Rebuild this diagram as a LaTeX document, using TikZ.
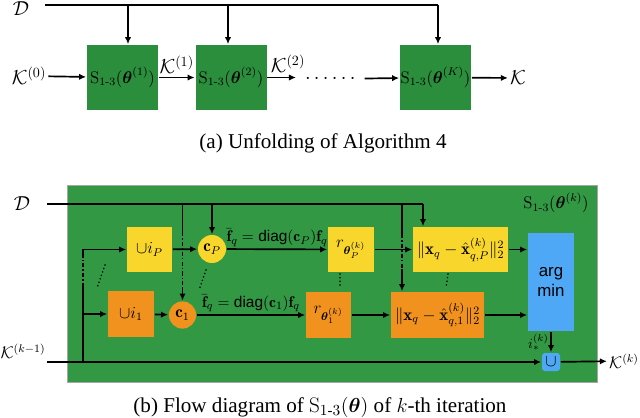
\documentclass[tikz,border=0pt]{standalone}
\usepackage{amsmath}
\usepackage{amssymb}
\usepackage{fontspec}
\setsansfont{Liberation Sans}
\newfontfamily\capfont{Liberation Serif}
\usetikzlibrary{arrows.meta,calc}
\definecolor{topgreen}{RGB}{42,142,60}
\definecolor{bggreen}{RGB}{50,152,68}
\definecolor{byellow}{RGB}{249,214,44}
\definecolor{borange}{RGB}{242,146,30}
\definecolor{bblue}{RGB}{78,168,246}

\begin{document}
\begin{tikzpicture}[x=0.025cm,y=-0.025cm,>={Latex[length=5pt,width=4.5pt]},line width=1.2pt,
  sz/.style 2 args={minimum width=#1*0.025cm,minimum height=#2*0.025cm},
  blk/.style={inner sep=0pt,align=center},
  gbox/.style={blk,fill=topgreen,sz={71}{65},font=\large},
  ybox/.style={blk,fill=byellow,font=\large},
  obox/.style={blk,fill=borange,font=\large},
  bbox/.style={blk,fill=bblue,font=\large\sffamily},
  ycirc/.style={circle,inner sep=0pt,fill=byellow,minimum size=0.7cm,font=\large},
  ocirc/.style={circle,inner sep=0pt,fill=borange,minimum size=0.68cm,font=\large},
  flab/.style={above,inner sep=1.5pt,font=\fontsize{11}{13}\selectfont},
  skip/.style={dash pattern=on 3pt off 1.5pt on 1pt off 1.5pt},
  dots/.style={line cap=round,dash pattern=on 0pt off 2.6pt},
  capt/.style={font=\capfont\fontsize{15}{17}\selectfont}]
  \useasboundingbox (0,0) rectangle (640,417);

  % (a) unfolding
  \node[font=\Large,inner sep=1pt] (lD) at (21,9) {$\mathcal{D}$};
  \coordinate (dA) at (45,5);
  \coordinate (dB) at (438,5);
  \node[gbox] (s1) at (122.5,77.5) {$\mathrm{S}_{1\text{-}3}(\boldsymbol{\theta}^{(1)})$};
  \node[gbox] (s2) at (231,77.5) {$\mathrm{S}_{1\text{-}3}(\boldsymbol{\theta}^{(2)})$};
  \node[gbox] (s3) at (435.5,77.5) {$\mathrm{S}_{1\text{-}3}(\boldsymbol{\theta}^{(K)})$};
  \node[font=\Large,inner sep=1pt] (k0) at (29,76) {$\mathcal{K}^{(0)}$};
  \node[font=\Large] (dts) at (332,79) {$\cdots\cdots$};
  \node[font=\Large,inner sep=1pt] (kK) at (518,78) {$\mathcal{K}$};
  \draw (dA) -- (dB);
  \foreach \x/\b in {128/s1,228/s2,438/s3}
    \draw[->] (\x,5) -- (\x,5 |- \b.north);
  \draw[->] (k0) -- (s1);
  \draw[->] (s1) -- node[above=1pt,font=\Large,inner sep=1pt] (k1) {$\mathcal{K}^{(1)}$} (s2);
  \coordinate (a2) at (296,77.5);
  \draw[->] (s2) -- (a2);
  \node[font=\Large,inner sep=1pt] (k2) at (288,64) {$\mathcal{K}^{(2)}$};
  \draw[->] (dts) -- (s3);
  \draw[->] (s3) -- (kK);
  \node[capt] (capa) at (323,143) {(a) Unfolding of Algorithm 4};

  % (b) one iteration
  \fill[bggreen,draw=black!35,line width=0.6pt] (67,185) rectangle (597,382);
  \node[font=\large] (ttl) at (556,203) {$\mathrm{S}_{1\text{-}3}(\boldsymbol{\theta}^{(k)})$};
  \node[font=\Large,inner sep=1pt] (lD2) at (22,204) {$\mathcal{D}$};
  \node[font=\large,inner sep=1pt] (kin) at (23,351) {$\mathcal{K}^{(k-1)}$};
  \node[font=\large,inner sep=1pt] (kout) at (624,361) {$\mathcal{K}^{(k)}$};

  \node[ybox,sz={45}{45}] (uiP) at (149.5,249.5) {$\cup i_P$};
  \node[obox,sz={46}{46}] (ui1) at (131,314) {$\cup i_1$};
  \node[ycirc] (cP) at (212,249) {$\mathbf{c}_P$};
  \node[ocirc] (c1) at (182.5,315) {$\mathbf{c}_1$};
  \node[ybox,sz={46}{45}] (rP) at (351,249.5) {$r_{\boldsymbol{\theta}_P^{(k)}}$};
  \node[obox,sz={45}{46}] (r1) at (328.5,315) {$r_{\boldsymbol{\theta}_1^{(k)}}$};
  \node[ybox,sz={95}{45}] (nP) at (460.5,249.5) {$\|\mathbf{x}_q-\hat{\mathbf{x}}_{q,P}^{(k)}\|_2^2$};
  \node[obox,sz={93}{46}] (n1) at (437.5,315) {$\|\mathbf{x}_q-\hat{\mathbf{x}}_{q,1}^{(k)}\|_2^2$};
  \node[bbox,sz={46}{98}] (am) at (551,282) {arg\\min};
  \node[bbox,sz={18}{18},rounded corners=2pt] (un) at (551,362) {$\cup$};

  % data line
  \coordinate (dL) at (47,204);
  \coordinate (dR) at (423,204);
  \draw (dL) -- (dR);
  \draw[->] (dR) -- (dR |- nP.north);
  \draw[->] (cP |- dL) -- (cP);
  \draw (c1 |- dL) -- ++(0,28) coordinate (v1a);
  \draw[skip] (v1a) -- ++(0,55) coordinate (v1b);
  \draw[->] (v1b) -- (c1);
  \coordinate (v2) at (402,204);
  \draw (v2) -- ++(0,30) coordinate (v2a);
  \draw[skip] (v2a) -- ++(0,35) coordinate (v2b);
  \draw[->] (v2b) -- (v2 |- n1.north);

  % index line
  \coordinate (kL) at (47,362);
  \coordinate (lv) at (83,362);
  \draw[->] (kL) -- (un);
  \draw (lv) -- (83,287) coordinate (lva);
  \draw[skip] (lva) -- (83,258) coordinate (lvb);
  \draw[->] (lvb) |- (uiP);
  \draw[->] (lv |- ui1) -- (ui1);

  \draw[->] (uiP) -- (cP);
  \draw[->] (ui1) -- (c1);
  \draw[->] (cP) -- node[flab] (fP) {$\bar{\mathbf{f}}_q=\textsf{diag}(\mathbf{c}_P)\mathbf{f}_q$} (rP);
  \draw[->] (c1) -- node[flab] (f1) {$\bar{\mathbf{f}}_q=\textsf{diag}(\mathbf{c}_1)\mathbf{f}_q$} (r1);
  \draw[->] (rP) -- (nP);
  \draw[->] (r1) -- (n1);
  \draw[->] (nP) -- (nP -| am.west);
  \draw[->] (n1) -- (n1 -| am.west);
  \draw[->] (am) -- node[left,inner sep=1pt] (is) {$i_*^{(k)}$} (un);
  \draw[->] (un) -- (kout);

  % rows in between
  \draw[dots] (105,265) -- (97,288);
  \draw[dots] (206,270) -- (199,290);
  \draw[dots] (340,274) -- (340,288);
  \draw[dots] (448,274) -- (446,288);

  \node[capt] (capb) at (320,407) {(b) Flow diagram of $\mathrm{S}_{1\text{-}3}(\boldsymbol{\theta})$ of $k$-th iteration};
\end{tikzpicture}
\end{document}
